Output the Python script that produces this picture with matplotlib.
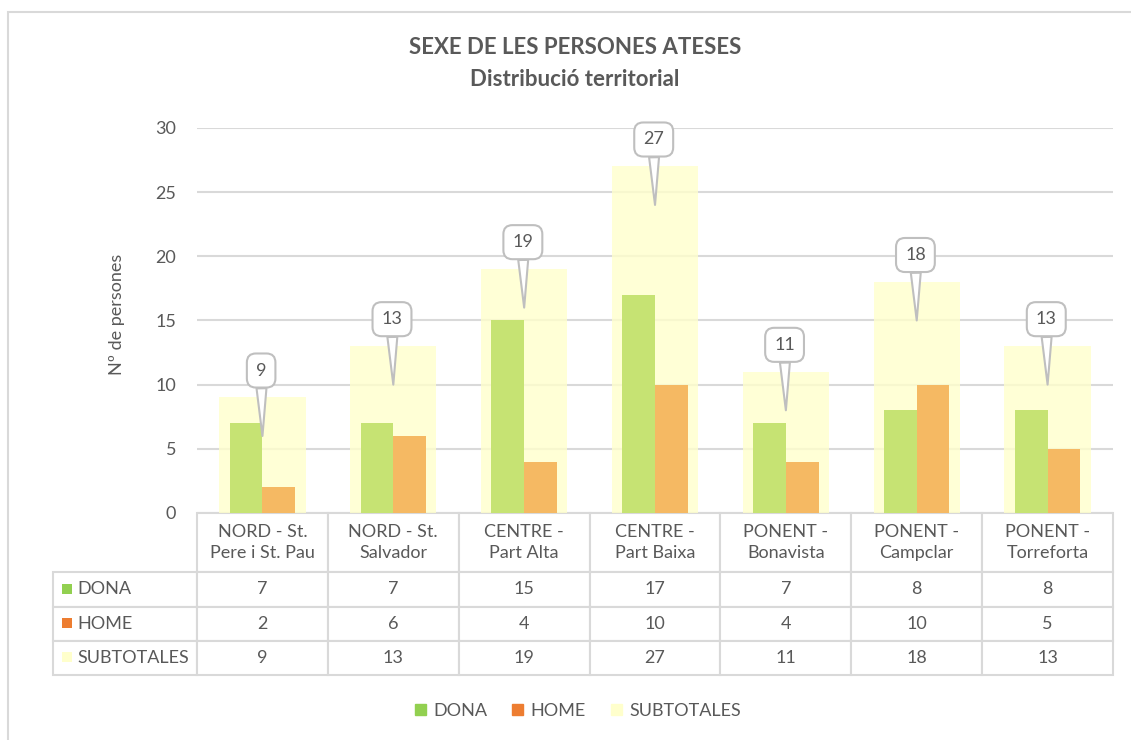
import matplotlib.pyplot as plt
from matplotlib.patches import Patch, Rectangle
from matplotlib.table import Table

plt.rcParams['font.family'] = ['Lato', 'DejaVu Sans']

zones = ["NORD - St.\nPere i St. Pau", "NORD - St.\nSalvador", "CENTRE -\nPart Alta",
         "CENTRE -\nPart Baixa", "PONENT -\nBonavista", "PONENT -\nCampclar",
         "PONENT -\nTorreforta"]
dona = [7, 7, 15, 17, 7, 8, 8]
home = [2, 6, 4, 10, 4, 10, 5]
subtotales = [9, 13, 19, 27, 11, 18, 13]
series_names = ["DONA", "HOME", "SUBTOTALES"]

grey = '#595959'
line_col = '#D9D9D9'
legend_cols = ['#92D050', '#ED7D31', '#FFFFCC']

fig = plt.figure(figsize=(11.31, 7.4), dpi=100)
ax = fig.add_axes([0.1742, 0.3068, 0.8099, 0.5203])

# outer chart border (only top and left edges fall inside the picture)
fig.add_artist(Rectangle((8 / 1131, -0.05), 1.1, 1.05 - 12 / 740,
                         transform=fig.transFigure, fill=False, ec=line_col, lw=1.5))

x = list(range(len(zones)))
ax.bar(x, subtotales, width=0.66, color='#FFFFCC', alpha=0.8, zorder=1)
ax.bar([i - 0.125 for i in x], dona, width=0.25, color='#C6E373', zorder=2)
ax.bar([i + 0.125 for i in x], home, width=0.25, color='#F5B963', zorder=2)

# callouts with the subtotal
for i, v in zip(x, subtotales):
    ax.annotate(str(v), xy=(i, v - 3), xytext=(i - 0.01, v + 2.1),
                ha='center', va='center', fontsize=13, color=grey, zorder=5,
                annotation_clip=False,
                bbox=dict(boxstyle='round,pad=0.5,rounding_size=0.5', fc='white',
                          ec='#BFBFBF', lw=1.5),
                arrowprops=dict(arrowstyle='wedge,tail_width=0.55', fc='white',
                                ec='#BFBFBF', lw=1.5, shrinkA=0, shrinkB=0))

ax.set_xlim(-0.5, 6.5)
ax.set_ylim(0, 30)
ax.set_yticks(range(0, 31, 5))
ax.set_xticks([])
ax.tick_params(axis='y', length=0, pad=15, labelsize=13, labelcolor=grey)
ax.yaxis.grid(True, color=line_col, lw=1.5)
ax.set_axisbelow(True)
for s in ax.spines.values():
    s.set_visible(False)

ax.set_ylabel("Nº de persones", fontsize=13, color=grey)
ax.yaxis.set_label_coords(-0.0786, 0.515)

# data table: column 0 holds the series names, no corner cell
tbl = Table(ax, bbox=[-144 / 916, -0.4208, 1060 / 916, 0.4208])
for c, z in enumerate(zones, start=1):
    cell = tbl.add_cell(0, c, width=131, height=59, text=z, loc='center')
    cell.get_text().set_linespacing(1.4)
for r, (name, vals) in enumerate(zip(series_names, (dona, home, subtotales)), start=1):
    cell = tbl.add_cell(r, 0, width=144, height=34, text=name, loc='left')
    cell.PAD = 0.17
    for c, v in enumerate(vals, start=1):
        tbl.add_cell(r, c, width=131, height=34, text=str(v), loc='center')
tbl.auto_set_font_size(False)
tbl.set_fontsize(13)
for cell in tbl.get_celld().values():
    cell.set_edgecolor(line_col)
    cell.set_linewidth(1.5)
    cell.get_text().set_color(grey)
ax.add_table(tbl)

# coloured keys in the row labels
for k, col in enumerate(legend_cols):
    yc = -(59 + 34 * k + 17) / 385
    ax.add_patch(Rectangle((-0.1474, yc - 5 / 385), 10 / 916, 10 / 385,
                           transform=ax.transAxes, fc=col, ec='none', clip_on=False,
                           zorder=5))

fig.text(575 / 1131, 1 - 48 / 740, "SEXE DE LES PERSONES ATESES", ha='center', va='center',
         fontsize=16, fontweight='bold', color=grey)
fig.text(575 / 1131, 1 - 80 / 740, "Distribució territorial", ha='center', va='center',
         fontsize=16, fontweight='bold', color=grey)

handles = [Patch(color=c, label=n) for c, n in zip(legend_cols, series_names)]
fig.legend(handles=handles, loc='center', bbox_to_anchor=(578 / 1131, 1 - 711 / 740),
           ncol=3, frameon=False, fontsize=13, handlelength=0.6, handleheight=0.6,
           handletextpad=0.4, columnspacing=1.4, labelcolor=grey)

fig.savefig('out.png', dpi=100)
